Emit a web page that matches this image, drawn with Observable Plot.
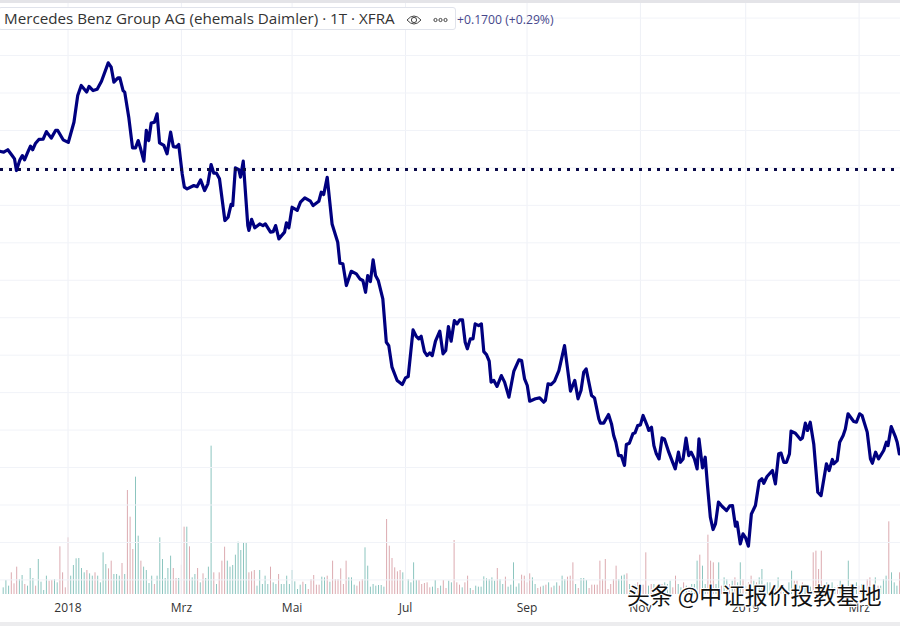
<!DOCTYPE html>
<html><head><meta charset="utf-8">
<script src="https://cdn.jsdelivr.net/npm/d3@7"></script>
<script src="https://cdn.jsdelivr.net/npm/@observablehq/plot@0.6"></script>
<style>
html,body{margin:0;padding:0;background:#fff;}
#wrap{position:relative;width:900px;height:626px;overflow:hidden;background:#fff;}
#wrap svg.plot-layer{position:absolute;left:0;top:0;background:transparent;}
#topStrip{position:absolute;left:0;top:0;width:900px;height:3px;background:#e4e4e8;}
#botStrip{position:absolute;left:0;top:622px;width:900px;height:4px;background:#ececee;}
#legend{position:absolute;left:-2px;top:7px;width:458px;height:23px;box-sizing:border-box;background:#fff;border:1px solid #e0e3eb;border-radius:3px;font:15.2px "Open Sans",sans-serif;color:#333;line-height:21px;padding-left:5px;white-space:nowrap;}
#change{position:absolute;left:457px;top:11px;font:12.2px "Open Sans",sans-serif;color:#47478c;line-height:18px;white-space:nowrap;}
#icons{position:absolute;left:406px;top:11px;}
#mark{position:absolute;left:627px;top:580px;font:22.8px "Noto Sans CJK SC",sans-serif;line-height:30px;color:#111;white-space:pre;text-shadow:1px 1px 0 #fff,-1px -1px 0 #fff,1px -1px 0 #fff,-1px 1px 0 #fff;}
</style></head>
<body><div id="wrap"></div>
<script>
const legendTitle = "Mercedes Benz Group AG (ehemals Daimler) · 1T · XFRA";
const changeText = "+0.1700 (+0.29%)";
const watermark = "头条 @中证报价投教基地";
const monthSessions = [25, 67, 108, 150, 195, 237, 276, 318];
const monthLabels = ["2018", "Mrz", "Mai", "Jul", "Sep", "Nov", "2019", "Mrz"];
const gridPrices = [44,46,48,50,52,54,56,58,60,62,64,66,68,70,72,74];
const referencePrice = 65.91;

const sessions = [0,1.2,2.7,4.3,5.2,5.9,7.2,8.1,8.9,10.1,11.1,11.9,13,14.2,15.8,17,18.8,20.4,21.2,23.2,25.1,27.2,28.6,29.9,31.9,32.8,34.3,35.8,37.4,39.9,41,42,43.5,44.2,45.4,46,47.5,48.9,50,51,51.9,53.1,54,54.9,55.8,57,58,58.9,60.5,61.7,63,64,65.1,66,67.3,68.1,69.1,71.6,72.8,74.1,75.6,76.8,78,79,80,81.1,83.1,84.3,85.4,86,87,88.3,88.9,89.9,91.6,92,93,94.2,96,97.2,98.1,100,101,101.9,103.1,105.2,105.9,106.8,108,109.9,111.1,
112.7,114.8,115.8,117.9,118.8,119.7,121,122.8,124.9,125.7,126.8,128.1,129.9,131.8,133.1,134.2,135.2,136,137,138,138.9,139.9,141.6,142.9,143.8,145,146.9,148.8,150,151,152.8,154,154.9,155.8,157,158,159,159.9,161.1,162.7,163.9,164.9,165.9,166.9,168.1,169.1,170.1,171.1,172.1,172.9,174,175,175.8,177.1,178.1,179,180,181,181.7,182.7,183.9,185.5,186.7,188.3,190.1,192,193,194.1,195.1,196,198.1,199.7,201.2,201.8,202.8,203.9,205.2,206.8,208.9,211.1,212.7,213.9,215,216,216.9,218.9,220,221.6,
222.2,223.4,225.2,226.3,227.1,227.9,228.9,229.9,231.1,231.8,232.9,234.2,235,236,237,238,239.5,240.1,241.1,242,242.9,243.9,245,245.9,247.5,248.7,249.9,251.1,251.8,252.8,253.9,254.9,255.8,257,258,258.7,260,261,261.9,262.9,263.9,264.8,265.9,267.3,268.9,270.1,271.1,272.2,272.8,274,275,276,277,278.1,279.6,281,282,282.7,283.9,285.9,287,288.2,289.1,290.1,291.1,292.2,292.8,294.4,296.3,297,298.1,298.9,299.9,301.2,302.7,303.9,305.9,306.9,308.1,308.6,309.9,310.8,312.1,312.9,313.9,316,317,318.2,319.1,321,322.2,322.9,324.1,325.2,327.1,328.1,328.7,329.9,331.5,332.1,332.9];

const prices = [66.88,66.84,66.97,66.66,66.48,65.86,66.43,66.66,66.43,66.84,67.16,66.97,67.32,67.52,67.54,67.94,67.59,68,68,67.5,67.36,68.44,69.87,70.4,70.05,70.35,70.13,70.2,70.63,71.61,71.38,70.58,70.81,70.81,70.13,70.05,68.71,67.07,67.07,67.46,67.02,66.36,68,67.46,68.39,68.44,68.89,67.34,67.2,66.75,67.91,67.14,67.11,67.25,65.68,64.97,64.88,65.06,65,65.36,64.79,65.15,66.18,65.72,65.72,65.42,63.19,63.37,64.05,63.99,66,65.9,65.51,66.36,62.92,62.66,63.25,62.8,63.01,62.92,63.01,62.57,62.6,62.92,62.21,62.57,63.07,62.8,63.9,63.73,64.17,
64.4,64.22,63.99,64.22,64.7,64.58,65.5,63.01,62.03,60.91,60.88,59.72,60.48,60.34,60.07,59.99,59.36,60.25,59.93,61.09,60.25,59.99,59.01,56.69,56.51,55.36,54.65,54.43,54.79,54.86,57.35,57,56.87,57.01,56.19,55.98,56.12,55.98,56.75,57.28,56.07,56.25,57.53,56.75,57.85,57.67,57.89,57.89,56.69,56.34,56.87,56.87,57.67,57.58,57.67,56.19,56.03,55.68,54.56,54.65,54.33,54.91,54.56,53.76,55.13,55.75,55.71,54.73,54.38,53.54,53.67,53.72,53.49,53.58,54.47,54.43,54.61,55.18,56.51,54.08,54.65,53.67,54.11,55.09,55.27,53.85,53.72,52.6,
52.37,52.37,52.83,52.33,51.71,51.35,50.64,50.64,50.11,51.23,51.3,51.8,51.85,52.24,52.28,52.78,52.24,51.98,52.15,51.17,50.73,50.46,51.58,51.53,50.82,50.37,49.93,50.82,50.28,50.46,51.57,50.64,50.82,50.46,49.93,51.53,49.98,50.55,48.95,47.35,46.69,46.99,48.15,47.92,47.7,47.95,47.97,46.87,47.08,45.92,46.46,46.24,45.8,47.52,47.97,49.27,49.4,49.16,49.52,49.84,49.13,50.73,50.77,50.28,50.28,50.73,51.94,51.83,51.5,51.58,52.37,51.98,52.42,51.26,48.68,48.5,50.2,49.84,50.43,50.2,50.37,51.35,51.71,52.06,52.87,52.46,52.42,52.87,52.78,51.89,50.46,50.23,50.82,50.46,50.91,51.35,51.17,52.19,51.62,51.35,50.73];

// Volume per session: positive = teal bar, negative = red bar
const signedVolume = [20,42,25,-65,-32,-82,45,57,-30,25,78,48,-25,105,37,12,55,-40,-42,45,35,-143,-65,-20,-170,55,87,107,108,78,65,-72,62,55,-65,55,35,125,90,-77,-100,60,60,55,-93,60,-312,-232,-135,352,175,-100,82,72,33,55,-30,55,170,105,48,78,115,-78,-48,48,-88,-202,202,-143,50,60,-78,35,-62,48,82,445,-65,30,-65,-100,-142,100,82,87,118,157,132,155,155,-65,-68,-72,25,72,30,55,30,-82,35,30,-60,30,30,55,30,72,38,15,28,
-37,30,-15,-45,-57,-28,-28,52,50,-55,37,-100,-45,-45,-77,-30,-100,50,50,28,-25,-38,-45,140,85,22,30,25,27,27,22,-225,-145,-108,-80,-68,-72,65,55,45,35,95,42,-42,-30,-33,-35,-20,22,42,-18,25,-42,-18,40,35,-162,-35,-28,20,-35,-55,18,-12,25,22,22,53,47,45,50,40,-78,45,30,-52,22,28,95,22,32,-58,-55,-35,-62,50,30,-18,-22,25,-28,35,-20,25,35,-25,55,45,-52,-55,-95,30,-18,48,48,42,-18,-28,-28,-28,-100,
-45,-105,-15,-30,-45,-85,45,55,58,-62,30,-18,28,-35,30,-28,-125,25,-30,30,-20,20,-30,35,30,40,-20,-55,30,20,-35,25,-20,30,30,100,-118,85,30,-178,-100,-95,30,95,-25,50,45,-30,40,-50,35,95,-45,25,-35,-55,40,-35,50,75,-30,35,35,-20,30,50,-25,30,-15,35,70,-40,-40,25,-35,30,-25,22,-125,-130,-75,-130,30,35,-25,35,20,-25,40,-25,22,100,-30,20,35,-25,30,30,-45,-50,25,50,-25,25,45,55,-218,65,35,25,-65];

const closes = sessions.map((s, i) => ({session: s, price: prices[i]}));
const bars = signedVolume.map((v, i) => ({session: i + 1, volume: Math.abs(v), side: v < 0 ? "down" : "up"}));

const W = 900, H = 626, mb = 32;
const xScale = {domain: [0, 333.33]};
const common = {width: W, height: H, marginLeft: 0, marginRight: 0, marginTop: 0, marginBottom: mb,
  style: {background: "transparent", fontFamily: "'Open Sans',sans-serif", overflow: "visible"}};

const volumePlot = Plot.plot({...common, className: "plot-layer",
  x: {...xScale, axis: null},
  y: {domain: [0, 1782], axis: null},
  color: {domain: ["up", "down"], range: ["#8cc5bf", "#dcaab0"]},
  marks: [
    Plot.ruleX(bars, {x: "session", y1: 0, y2: "volume", stroke: "side", strokeWidth: 1})
  ]});

const pricePlot = Plot.plot({...common, className: "plot-layer",
  x: {...xScale, axis: null},
  y: {domain: [43.22, 74.94], axis: null},
  marks: [
    Plot.gridX(monthSessions, {stroke: "#eef0f6", strokeOpacity: 1}),
    Plot.gridY(gridPrices, {stroke: "#f1f3f8", strokeOpacity: 1}),
    Plot.axisX(monthSessions, {anchor: "bottom", tickSize: 0, tickPadding: 9, fontSize: 12, fill: "#333",
      tickFormat: d => monthLabels[monthSessions.indexOf(d)], label: null}),
    Plot.line(closes, {x: "session", y: "price", stroke: "#000080", strokeWidth: 3.2, strokeLinejoin: "round"}),
    Plot.ruleY([referencePrice], {stroke: "#0a0a4a", strokeWidth: 3, strokeDasharray: "3,6"})
  ]});

const wrap = document.getElementById("wrap");
wrap.append(volumePlot, pricePlot);
wrap.insertAdjacentHTML("beforeend",
  `<div id="topStrip"></div><div id="botStrip"></div>
   <div id="legend">${legendTitle}</div>
   <svg id="icons" width="48" height="18" viewBox="0 0 48 18"><g fill="none" stroke="#444" stroke-width="1">
     <path d="M1 9 Q8 1 15 9 Q8 17 1 9Z"/><circle cx="8" cy="9" r="2.6"/>
     <circle cx="29.5" cy="9" r="1.6"/><circle cx="34.5" cy="9" r="1.6"/><circle cx="39.5" cy="9" r="1.6"/></g></svg>
   <div id="change">${changeText}</div>
   <div id="mark">${watermark}</div>`);
</script></body></html>
